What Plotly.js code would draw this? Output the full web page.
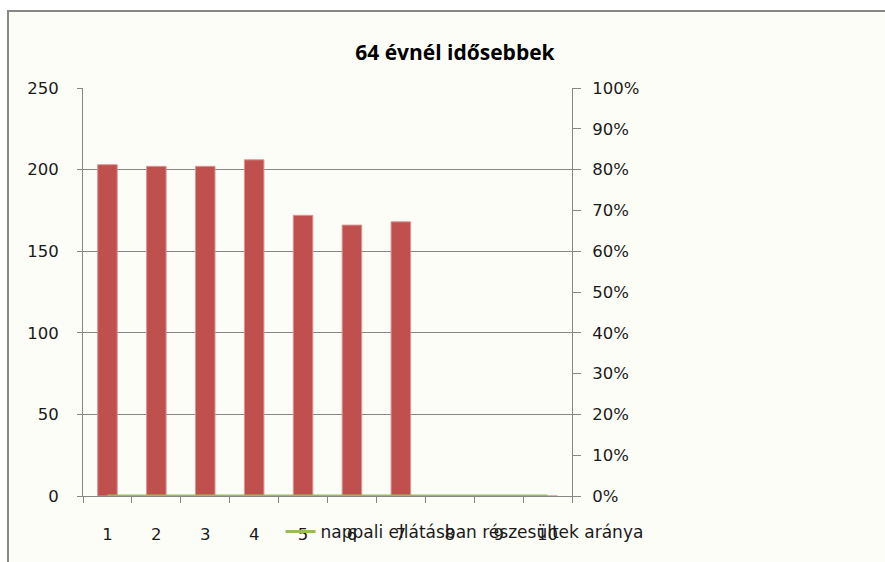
<!DOCTYPE html>
<html>
<head>
<meta charset="utf-8">
<script src="https://cdn.plot.ly/plotly-3.0.1.min.js"></script>
<style>
  html, body { margin: 0; padding: 0; background: #ffffff; }
  #plot { width: 885px; height: 562px; }
</style>
</head>
<body>
<div id="plot"></div>
<script>
const categories = ["1", "2", "3", "4", "5", "6", "7", "8", "9", "10"];
const persons = [203, 202, 202, 206, 172, 166, 168, 0, 0, 0];
const dayCareShare = [0, 0, 0, 0, 0, 0, 0, 0, 0, 0];
const chartTitle = "64 évnél idősebbek";
const lineName = "nappali ellátásban részesültek aránya";

const font = "'DejaVu Sans', sans-serif";

const traces = [
  {
    type: "bar",
    x: categories,
    y: persons,
    width: 0.4,
    marker: { color: "#c0504d", line: { color: "#d99694", width: 1 } },
    showlegend: false,
    hoverinfo: "x+y"
  },
  {
    type: "scatter",
    mode: "lines",
    x: categories,
    y: dayCareShare,
    yaxis: "y2",
    name: lineName,
    line: { color: "#9bbb59", width: 3 }
  }
];

const layout = {
  width: 885,
  height: 562,
  margin: { l: 83, r: 313, t: 88, b: 66 },
  paper_bgcolor: "#ffffff",
  plot_bgcolor: "rgba(0,0,0,0)",
  font: { family: font, size: 16.5, color: "#1a1a1a" },
  title: {
    text: chartTitle,
    font: { family: "'Open Sans', sans-serif", size: 21, color: "#000000", weight: "bold" },
    x: 0.514, xref: "container", xanchor: "center",
    y: 0.906, yref: "container", yanchor: "middle"
  },
  xaxis: {
    type: "category",
    tickson: "boundaries",
    ticks: "outside",
    ticklen: 6,
    tickcolor: "#868686",
    showgrid: false,
    showline: true,
    linecolor: "#868686",
    linewidth: 1,
    ticklabelstandoff: 23,
    zeroline: false
  },
  yaxis: {
    range: [0, 250],
    dtick: 50,
    ticks: "outside",
    ticklen: 5,
    tickcolor: "#868686",
    showline: true,
    linecolor: "#868686",
    gridcolor: "#868686",
    gridwidth: 1,
    zeroline: false,
    ticklabelstandoff: 15
  },
  yaxis2: {
    overlaying: "y",
    side: "right",
    range: [0, 1],
    dtick: 0.1,
    tickformat: ".0%",
    ticks: "outside",
    ticklen: 8,
    tickcolor: "#868686",
    showline: true,
    linecolor: "#868686",
    showgrid: false,
    zeroline: false,
    ticklabelstandoff: 8
  },
  showlegend: true,
  legend: {
    x: 0.404, xanchor: "left",
    y: -0.088, yanchor: "middle",
    bgcolor: "rgba(0,0,0,0)",
    font: { family: font, size: 17, color: "#1a1a1a" }
  },
  shapes: [
    {
      type: "rect", xref: "paper", yref: "paper", layer: "below",
      x0: -0.1534, x1: 2, y0: -0.5, y1: 1.1887,
      fillcolor: "#fdfdf8",
      line: { color: "#878787", width: 2 }
    }
  ]
};

Plotly.newPlot("plot", traces, layout, { displayModeBar: false, staticPlot: true });
</script>
</body>
</html>
